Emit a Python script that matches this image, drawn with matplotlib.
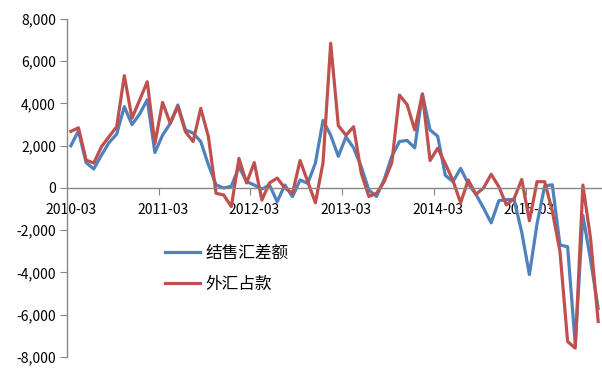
import matplotlib
matplotlib.use("Agg")
import matplotlib.pyplot as plt
from matplotlib.ticker import FuncFormatter


# monthly values, 2010-03 .. 2015-12 (unit: 亿元)
months = [f"{y}-{m:02d}" for y in range(2010, 2016) for m in range(1, 13)][2:]

settle = [2000, 2700, 1200, 900, 1550, 2150, 2550, 3850, 3000, 3500,
          4180, 1680, 2500, 3050, 3930, 2750, 2600, 2200, 1100, 150,
          0, 80, 1000, 300, 140, -50, 140, -650, 140, -410,
          380, 220, 1180, 3200, 2500, 1500, 2420, 1900, 1000, -100,
          -400, 400, 1500, 2200, 2250, 1900, 4450, 2750, 2450, 600,
          300, 930, 200, -300, -950, -1650, -600, -550, -550, -2100,
          -4100, -1700, 100, 150, -2700, -2780, -7400, -1300, -3400, -5700]

fx_funds = [2680, 2850, 1320, 1180, 1950, 2430, 2900, 5320, 3300, 4160,
            5030, 2100, 4050, 3070, 3850, 2660, 2200, 3770, 2430, -250,
            -330, -880, 1400, 240, 1200, -570, 240, 470, 0, -250,
            1300, 300, -700, 1200, 6850, 2950, 2500, 2900, 700, -400,
            -250, 300, 1200, 4400, 3950, 2750, 4450, 1300, 1880, 1150,
            350, -700, 380, -300, 0, 650, 60, -800, -500, 400,
            -1550, 300, 300, -1100, -3000, -7270, -7580, 140, -2380, -6320]

labels = ["结售汇差额", "外汇占款"]

plt.rcParams['font.family'] = ['Noto Sans CJK SC', 'DejaVu Sans']

x = list(range(len(months)))

fig = plt.figure(figsize=(6.02, 3.83), dpi=100)
ax = fig.add_axes([0.1113, 0.0679, 0.8887, 0.8825])

ax.plot(x, settle, color='#4F81BD', lw=2.3, label=labels[0])
ax.plot(x, fx_funds, color='#C0504D', lw=2.3, label=labels[1])

ax.set_xlim(-0.5, len(months) - 0.5)
ax.set_ylim(-8000, 8000)
ax.set_yticks(range(-8000, 8001, 2000))
ax.yaxis.set_major_formatter(FuncFormatter(lambda v, p: f"{int(v):,}"))

ax.spines['right'].set_visible(False)
ax.spines['top'].set_visible(False)
ax.spines['bottom'].set_position(('data', 0))
for s in ['left', 'bottom']:
    ax.spines[s].set_color('#868686')
    ax.spines[s].set_linewidth(1.0)

# tick marks between categories, labels on the category
ax.set_xticks([i - 0.5 for i in range(12, len(months), 12)])
ax.set_xticks(list(range(0, len(months), 12)), minor=True)
ax.set_xticklabels(months[::12], minor=True)
ax.tick_params(axis='x', which='major', labelbottom=False, length=5,
               color='#868686', direction='out')
ax.tick_params(axis='x', which='minor', length=0, pad=11, labelsize=10)
ax.tick_params(axis='y', length=5, color='#868686', labelsize=10, pad=3)

ax.legend(loc='upper left', bbox_to_anchor=(0.274, 0.36),
          bbox_transform=fig.transFigure, frameon=False, fontsize=12,
          borderpad=0, borderaxespad=0, handlelength=2.1,
          handletextpad=0.35, labelspacing=0.85)

fig.savefig('out.png', dpi=100)
